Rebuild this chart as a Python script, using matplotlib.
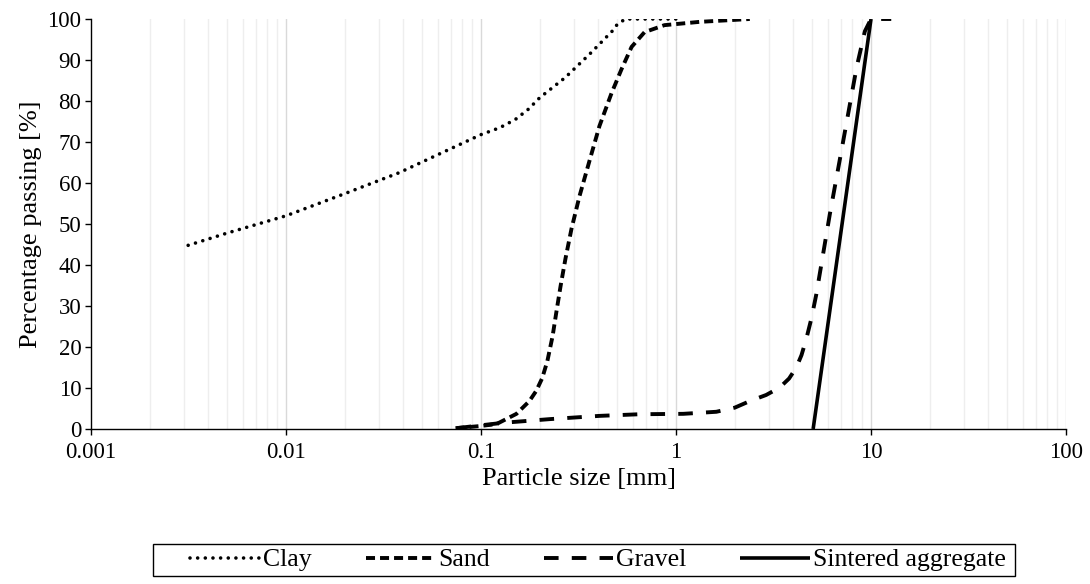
import matplotlib
matplotlib.use("Agg")
import matplotlib.pyplot as plt
from matplotlib.ticker import FixedLocator, NullLocator, FixedFormatter
from matplotlib.patches import Rectangle

plt.rcParams['font.family'] = ['Liberation Serif', 'DejaVu Serif']
plt.rcParams['lines.scale_dashes'] = False

# ---- data ----
clay_x = [0.00315, 0.005, 0.01, 0.02, 0.038, 0.06, 0.1, 0.125, 0.15, 0.175, 0.2, 0.27,
          0.36, 0.47, 0.5, 0.55, 1.0]
clay_y = [44.8, 47.8, 52.0, 57.4, 62.5, 66.9, 71.8, 73.5, 75.5, 78.0, 80.8, 85.7,
          91.4, 97.0, 98.7, 100.0, 100.0]

sand_x = [0.074, 0.098, 0.12, 0.152, 0.177, 0.192, 0.206, 0.219, 0.233, 0.244, 0.256,
          0.271, 0.291, 0.32, 0.36, 0.405, 0.467, 0.526, 0.592, 0.69, 0.873, 1.32, 2.39]
sand_y = [0.2, 0.7, 1.2, 3.7, 6.8, 9.3, 12.4, 16.6, 22.7, 28.8, 34.9,
          41.5, 48.8, 56.8, 65.4, 73.9, 81.9, 87.8, 93.2, 96.8, 98.5, 99.3, 100.0]

gravel_x = [0.075, 0.1, 0.129, 0.224, 0.405, 0.65, 1.09, 1.61, 2.0, 2.39, 2.9, 3.4, 3.8,
            4.14, 4.4, 4.66, 4.95, 5.24, 6.15, 7.2, 8.43, 9.3, 10.0, 12.7]
gravel_y = [0.2, 0.9, 1.5, 2.4, 3.2, 3.6, 3.7, 4.2, 5.2, 6.8, 8.3, 10.1, 12.3,
            15.0, 18.0, 22.0, 27.0, 32.8, 52.4, 70.2, 88.1, 97.0, 100.0, 100.0]

sinter_x = [5.05, 10.0]
sinter_y = [0.0, 100.0]

x_ticks = [0.001, 0.01, 0.1, 1, 10, 100]
x_ticklabels = ["0.001", "0.01", "0.1", "1", "10", "100"]
y_ticks = list(range(0, 101, 10))

# ---- figure ----
W, H = 1090, 584
fig = plt.figure(figsize=(W/100, H/100), dpi=100)
ax = fig.add_axes([91/W, 1 - 429/H, (1066 - 91)/W, (429 - 19)/H])

ax.set_xscale('log')
ax.set_xlim(0.001, 100)
ax.set_ylim(0, 100)

# grid lines
minor = [m * 10.0**e for e in range(-3, 2) for m in range(2, 10)]
for v in minor:
    ax.axvline(v, color='#eeeeee', lw=1.0, zorder=0)
for v in x_ticks[1:]:
    ax.axvline(v, color='#d9d9d9', lw=1.0, zorder=0)

ax.plot(clay_x, clay_y, color='black', lw=2.6, linestyle=(0, (0.01, 5.5)),
        dash_capstyle='round', label='Clay', zorder=3)
ax.plot(sand_x, sand_y, color='black', lw=2.8, linestyle=(0, (6.5, 3.6)),
        dash_capstyle='butt', label='Sand', zorder=3)
ax.plot(gravel_x, gravel_y, color='black', lw=2.8, linestyle=(0, (10.5, 9.5)),
        dash_capstyle='butt', label='Gravel', zorder=3)
ax.plot(sinter_x, sinter_y, color='black', lw=2.6, linestyle='-',
        solid_capstyle='butt', label='Sintered aggregate', zorder=3)

ax.xaxis.set_major_locator(FixedLocator(x_ticks))
ax.xaxis.set_major_formatter(FixedFormatter(x_ticklabels))
ax.xaxis.set_minor_locator(NullLocator())
ax.set_yticks(y_ticks)

for s in ['top', 'right']:
    ax.spines[s].set_visible(False)
for s in ['left', 'bottom']:
    ax.spines[s].set_linewidth(1.0)
    ax.spines[s].set_color('black')

ax.tick_params(axis='both', direction='out', length=4, width=1.0, labelsize=16.5)
ax.tick_params(axis='x', pad=5)
ax.tick_params(axis='y', pad=3)
ax.set_xlabel('Particle size [mm]', fontsize=19, labelpad=4)
ax.set_ylabel('Percentage passing [%]', fontsize=19, labelpad=4)

# legend (frame drawn separately to match the reference box)
leg = fig.legend(loc='center', bbox_to_anchor=(598/W, 1 - 560/H), ncol=4,
                 fontsize=18.5, frameon=False,
                 handlelength=2.7, handletextpad=0.12, columnspacing=2.1,
                 borderpad=0.1, borderaxespad=0)
fig.patches.append(Rectangle((153/W, 1 - 576/H), (1015 - 153)/W, (576 - 544)/H,
                             transform=fig.transFigure, fill=False,
                             edgecolor='black', lw=1.0))

fig.savefig('out.png', dpi=100)
